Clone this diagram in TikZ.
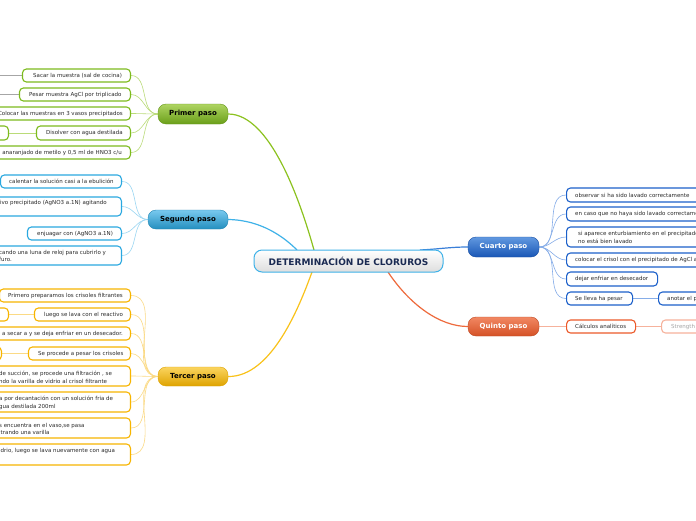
\documentclass[tikz,border=0pt]{standalone}
\usepackage{fontspec}
\setmainfont{DejaVu Sans}
\definecolor{gB}{HTML}{7DBB1E}
\definecolor{gL}{HTML}{BADB78}
\definecolor{gM}{HTML}{8CC21F}
\definecolor{sB}{HTML}{2AA8E0}
\definecolor{sL}{HTML}{9AD6F2}
\definecolor{sM}{HTML}{3FB2E8}
\definecolor{oB}{HTML}{F7B500}
\definecolor{oL}{HTML}{FBDA85}
\definecolor{oM}{HTML}{F9C21A}
\definecolor{bB}{HTML}{1C60CA}
\definecolor{bL}{HTML}{86ADE8}
\definecolor{bM}{HTML}{3A7FD8}
\definecolor{rB}{HTML}{EC5A2A}
\definecolor{rL}{HTML}{F6B29C}
\definecolor{rM}{HTML}{EE6A3C}
\definecolor{txg}{HTML}{2A2A2A}
\definecolor{navy}{HTML}{1A2A52}
\pgfdeclarelayer{bg}
\pgfsetlayers{bg,main}
\begin{document}
\begin{tikzpicture}[x=1pt,y=-1pt,
  leafbox/.style={draw=#1, line width=1.1pt, rounded corners=4pt, fill=white, inner sep=0pt},
  lt/.style={font=\fontsize{5.5}{7.6}\selectfont, text=txg, inner sep=0pt, align=left},
  branch/.style={rounded corners=8pt, inner sep=0pt, font=\bfseries\fontsize{7}{8}\selectfont},
  fan/.style={draw=#1, line width=0.6pt},
  main/.style={draw=#1, line width=1.2pt},
  link/.style={draw=#1, line width=0.8pt}]
\useasboundingbox (0,0) rectangle (696,520);
\begin{pgfonlayer}{bg}
\fill[white] (0,0) rectangle (696,520);
\end{pgfonlayer}
\clip (0,0) rectangle (696,520);

% central
\node[rounded corners=8pt, draw=sM, line width=1pt, top color=white, bottom color=black!13,
  minimum width=189, minimum height=22, inner sep=0pt, text=navy,
  font=\bfseries\fontsize{9}{10}\selectfont] (C) at (348.5,261) {DETERMINACIÓN DE CLORUROS};
\coordinate (c1) at (314,250);
\coordinate (c2) at (297,250);
\coordinate (c3) at (312,272);
\coordinate (c4) at (420,250);
\coordinate (c5) at (388,272);

% branches
\node[branch, draw=gB!80!black, top color=gM!70!white, bottom color=gB!85!black, minimum width=70, minimum height=20] (P) at (193,114) {Primer paso};
\node[branch, draw=sB!80!black, top color=sM!70!white, bottom color=sB!85!black, minimum width=80, minimum height=19] (S) at (188,219.5) {Segundo paso};
\node[branch, draw=oB!90!black, top color=oM!70!white, bottom color=oB!90!black, minimum width=70, minimum height=19] (T) at (193,376.5) {Tercer paso};
\node[branch, draw=bB!80!black, top color=bM!80!white, bottom color=bB!90!black, text=white, minimum width=71, minimum height=20] (Q) at (503.5,247) {Cuarto paso};
\node[branch, draw=rB!80!black, top color=rM!80!white, bottom color=rB!90!black, text=white, minimum width=71, minimum height=19] (R) at (503.5,326.5) {Quinto paso};

% Primer paso leaves
\node[leafbox=gB, minimum width=108, minimum height=13, anchor=east] (p1) at (131,75.5) {};
\node[lt, anchor=west] (p1t) at (33,75.5) {Sacar la muestra (sal de cocina)};
\node[leafbox=gB, minimum width=111, minimum height=13, anchor=east] (p2) at (131,94.5) {};
\node[lt, anchor=west] (p2t) at (29,94.5) {Pesar muestra AgCl por triplicado};
\node[leafbox=gB, minimum width=150, minimum height=13, anchor=east] (p3) at (131,113.5) {};
\node[lt, anchor=east] (p3t) at (123,113.5) {Colocar las muestras en 3 vasos precipitados};
\node[leafbox=gB, minimum width=94, minimum height=14, anchor=east] (p4) at (131,133) {};
\node[lt, anchor=west] (p4t) at (46,133) {Disolver con agua destilada};
\node[leafbox=gB, minimum width=60, minimum height=14, anchor=east] (p4a) at (9,133) {};
\node[leafbox=gB, minimum width=150, minimum height=13, anchor=east] (p5) at (131,152.5) {};
\node[lt, anchor=east] (p5t) at (122,152.5) {anaranjado de metilo y 0,5 ml de HNO3 c/u};
\coordinate (p1x) at (-10,75.5);
\coordinate (p2x) at (-10,94.5);

% Segundo paso leaves
\node[leafbox=sB, minimum width=121, minimum height=13, anchor=east] (s1) at (122,181.5) {};
\node[lt, anchor=west] (s1t) at (9,181.5) {calentar la solución casi a la ebulición};
\node[leafbox=sB, minimum width=150, minimum height=19, anchor=east] (s2) at (122,206.5) {};
\node[lt, anchor=east] (s2t) at (107,203) {ivo precipitado (AgNO3 a.1N) agitando};
\node[leafbox=sB, minimum width=94, minimum height=13, anchor=east] (s3) at (122,233.5) {};
\node[lt, anchor=west] (s3t) at (37,233.5) {enjuagar con (AgNO3 a.1N)};
\node[leafbox=sB, minimum width=150, minimum height=19, anchor=east] (s4) at (122,255.5) {};
\node[lt, anchor=west] (s4t) at (-1,256) {cando una luna de reloj para cubrirlo y\\furo.};

% Tercer paso leaves
\node[leafbox=oB, minimum width=131, minimum height=13, anchor=east] (t1) at (131,295.5) {};
\node[lt, anchor=west] (t1t) at (8,295.5) {Primero preparamos los crisoles filtrantes};
\node[leafbox=oB, minimum width=96, minimum height=13, anchor=east] (t2) at (131,314.5) {};
\node[lt, anchor=west] (t2t) at (44,314.5) {luego se lava con el reactivo};
\node[leafbox=oB, minimum width=60, minimum height=13, anchor=east] (t2a) at (9,314.5) {};
\node[leafbox=oB, minimum width=150, minimum height=13, anchor=east] (t3) at (131,333.5) {};
\node[lt, anchor=east] (t3t) at (123,333.5) {a secar a y se deja enfriar en un desecador.};
\node[leafbox=oB, minimum width=102, minimum height=13, anchor=east] (t4) at (131,353.5) {};
\node[lt, anchor=west] (t4t) at (38,353.5) {Se procede a pesar los crisoles};
\node[leafbox=oB, minimum width=60, minimum height=13, anchor=east] (t4a) at (2,353.5) {};
\node[leafbox=oB, minimum width=150, minimum height=20, anchor=east] (t5) at (131,376) {};
\node[lt, anchor=west] (t5t) at (-1,377.5) {de succión, se procede una filtración , se\\ndo la varilla de vidrio al crisol filtrante};
\node[leafbox=oB, minimum width=150, minimum height=20, anchor=east] (t6) at (131,402) {};
\node[lt, anchor=west] (t6t) at (-1,403) {a por decantación con un solución fria de\\gua destilada 200ml};
\node[leafbox=oB, minimum width=150, minimum height=20, anchor=east] (t7) at (131,428) {};
\node[lt, anchor=west] (t7t) at (-1,429) {s encuentra en el vaso,se pasa\\ltrando una varilla};
\node[leafbox=oB, minimum width=150, minimum height=21, anchor=east] (t8) at (131,454.5) {};
\node[lt, anchor=west] (t8t) at (-1,451) {idrio, luego se lava nuevamente con agua};

% Cuarto paso leaves
\node[leafbox=bB, minimum width=160, minimum height=14, anchor=west] (q1) at (566,195) {};
\node[lt, anchor=west] (q1t) at (575,195) {observar si ha sido lavado correctamente};
\node[leafbox=bB, minimum width=160, minimum height=14, anchor=west] (q2) at (566,214) {};
\node[lt, anchor=west] (q2t) at (575,214) {en caso que no haya sido lavado correctamente};
\node[leafbox=bB, minimum width=160, minimum height=20, anchor=west] (q3) at (566,237) {};
\node[lt, anchor=west] (q3t) at (578,237.5) {si aparece enturbiamiento en el precipitado\\no está bien lavado};
\node[leafbox=bB, minimum width=160, minimum height=14, anchor=west] (q4) at (566,260) {};
\node[lt, anchor=west] (q4t) at (575,260) {colocar el crisol con el precipitado de AgCl a};
\node[leafbox=bB, minimum width=91, minimum height=14, anchor=west] (q5) at (566,279) {};
\node[lt, anchor=west] (q5t) at (575,279) {dejar enfriar en desecador};
\node[leafbox=bB, minimum width=66, minimum height=13, anchor=west] (q6) at (566,298.5) {};
\node[lt, anchor=west] (q6t) at (575,298.5) {Se lleva ha pesar};
\node[leafbox=bB, minimum width=80, minimum height=13, anchor=west] (q7) at (658,298.5) {};
\node[lt, anchor=west] (q7t) at (667,298.5) {anotar el p};

% Quinto paso leaves
\node[leafbox=rB, minimum width=69, minimum height=13, anchor=west] (r1) at (566,326.5) {};
\node[lt, anchor=west] (r1t) at (575,326.5) {Cálculos analíticos};
\node[leafbox=rL, minimum width=80, minimum height=13, anchor=west] (r2) at (661,326.5) {};
\node[lt, anchor=west, text=black!35] (r2t) at (671,326.5) {Strength};

\begin{pgfonlayer}{bg}
% main connectors
\draw[main=gM] (P.east) .. controls (270,114) and (300,200) .. (c1);
\draw[main=sM] (S.east) .. controls (262,220) and (285,238) .. (c2);
\draw[main=oM] (T.east) .. controls (272,377) and (300,305) .. (c3);
\draw[main=bM] (c4) .. controls (440,249) and (450,247) .. (Q.west);
\draw[main=rM] (c5) .. controls (410,305) and (440,326.5) .. (R.west);
% fans
\foreach \n in {p1,p2,p3,p4,p5} \draw[fan=gL] (P.west) to[out=180,in=0] (\n.east);
\foreach \n in {s1,s2,s3,s4} \draw[fan=sL] (S.west) to[out=180,in=0] (\n.east);
\foreach \n in {t1,t2,t3,t4,t5,t6,t7,t8} \draw[fan=oL] (T.west) to[out=180,in=0] (\n.east);
\foreach \n in {q1,q2,q3,q4,q5,q6} \draw[fan=bL] (Q.east) to[out=0,in=180] (\n.west);
\draw[fan=rL] (R.east) -- (r1.west);
% sub links
\draw[link=gL] (p4.west) -- (p4a.east);
\draw[link=black!35] (p1.west) -- (p1x);
\draw[link=black!35] (p2.west) -- (p2x);
\draw[link=oL] (t2.west) -- (t2a.east);
\draw[link=oL] (t4.west) -- (t4a.east);
\draw[link=bL] (q6.east) -- (q7.west);
\draw[link=rL] (r1.east) -- (r2.west);
\end{pgfonlayer}
\end{tikzpicture}
\end{document}
